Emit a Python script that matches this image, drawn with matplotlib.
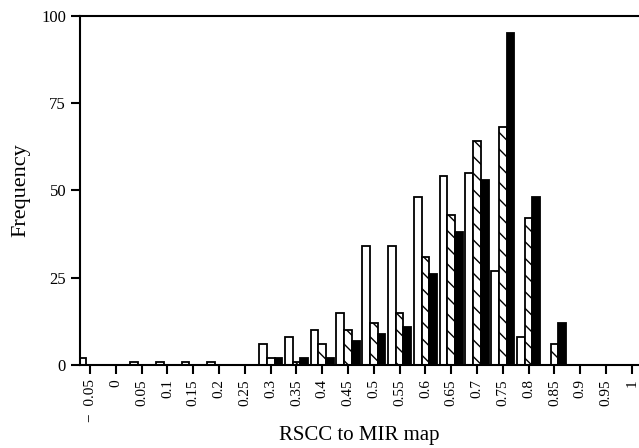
import matplotlib
matplotlib.use("Agg")
import matplotlib.pyplot as plt
import numpy as np

categories = ["\u2212  0.05", "0", "0.05", "0.1", "0.15", "0.2", "0.25", "0.3", "0.35", "0.4",
              "0.45", "0.5", "0.55", "0.6", "0.65", "0.7", "0.75", "0.8", "0.85", "0.9",
              "0.95", "1"]
white_vals = [2, 0, 1, 1, 1, 1, 0, 6, 8, 10, 15, 34, 34, 48, 54, 55, 27, 8, 0, 0, 0, 0]
hatched_vals = [0, 0, 0, 0, 0, 0, 0, 2, 1, 6, 10, 12, 15, 31, 43, 64, 68, 42, 6, 0, 0, 0]
black_vals = [0, 0, 0, 0, 0, 0, 0, 2, 2, 2, 7, 9, 11, 26, 38, 53, 95, 48, 12, 0, 0, 0]
y_ticks = [0, 25, 50, 75, 100]

plt.rcParams['font.family'] = ['Liberation Serif', 'DejaVu Serif']
plt.rcParams['hatch.linewidth'] = 1.0

fig = plt.figure(figsize=(6.39, 4.48), dpi=100)
ax = fig.add_axes([80/639, 1-365/448, 1-80/639, (365-15.7)/448])

x = np.arange(len(categories))
w = 0.3
lw = 1.3
ax.bar(x - w, white_vals, w, color='white', edgecolor='black', linewidth=lw)
ax.bar(x, hatched_vals, w, color='white', edgecolor='black', linewidth=lw, hatch='\\\\')
ax.bar(x + w, black_vals, w, color='black', edgecolor='black', linewidth=lw)

ax.set_xlim(-0.39, 21.28)
ax.set_ylim(0, 100)
ax.set_xticks(x)
ax.set_xticklabels(categories, rotation=90, fontsize=11)
ax.set_yticks(y_ticks)
ax.set_yticklabels([str(v) for v in y_ticks], fontsize=12)
ax.tick_params(axis='both', direction='out', length=6.5, width=1.5, color='black')
ax.tick_params(axis='x', pad=3.5)
ax.spines['right'].set_visible(False)
for s in ['left', 'top', 'bottom']:
    ax.spines[s].set_linewidth(1.5)
ax.set_xlabel("RSCC to MIR map", fontsize=15, labelpad=3)
ax.set_ylabel("Frequency", fontsize=16, labelpad=8)

fig.savefig("out.png", dpi=100)
